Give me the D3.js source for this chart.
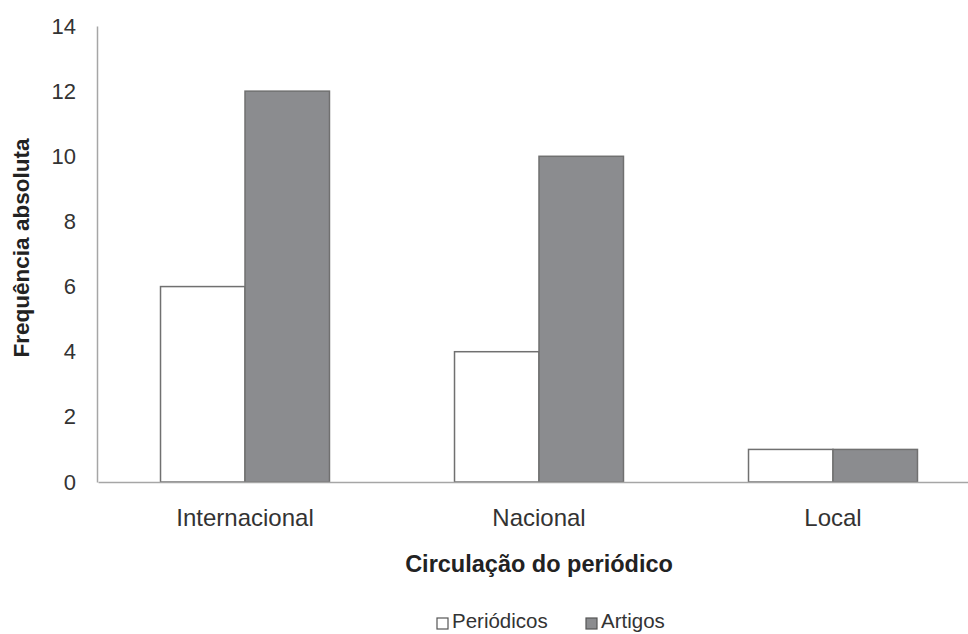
<!DOCTYPE html>
<html><head><meta charset="utf-8">
<script src="https://cdn.jsdelivr.net/npm/d3@7"></script>
<style>body{margin:0;background:#fff}svg{display:block;font-family:"Liberation Sans",Arial,sans-serif}</style>
</head><body><svg id="c" width="968" height="634"></svg>
<script>
const categories = ["Internacional", "Nacional", "Local"];
const seriesNames = ["Periódicos", "Artigos"];
const periodicos = [6, 4, 1];
const artigos = [12, 10, 1];
const yTicks = [0, 2, 4, 6, 8, 10, 12, 14];
const yTitle = "Frequência absoluta";
const xTitle = "Circulação do periódico";

(function () {
const colors = {"Periódicos": "#ffffff", "Artigos": "#8b8c8f"};
const data = categories.map((c, i) => ({cat: c, vals: [periodicos[i], artigos[i]]}));

const svg = d3.select("#c");
const mLeft = 98, mRight = 980, mTop = 26, mBottom = 482;
const x0 = d3.scaleBand().domain(categories).range([mLeft, mRight]).padding(0);
const x1 = d3.scaleBand().domain(seriesNames).range([0, x0.bandwidth()]).paddingInner(0).paddingOuter(0.74);
const y = d3.scaleLinear().domain([0, 14]).range([mBottom, mTop]);

// bars
const g = svg.append("g");
data.forEach(d => {
  seriesNames.forEach((s, j) => {
    g.append("rect")
      .attr("x", x0(d.cat) + x1(s))
      .attr("y", y(d.vals[j]))
      .attr("width", x1.bandwidth())
      .attr("height", y(0) - y(d.vals[j]))
      .attr("fill", colors[s])
      .attr("stroke", "#707070")
      .attr("stroke-width", 1.5);
  });
});

// y axis
const yAxis = d3.axisLeft(y).tickValues(yTicks).tickSize(0).tickPadding(21).tickFormat(d3.format("d"));
const ya = svg.append("g").attr("transform", `translate(${mLeft - 1},0)`).call(yAxis);
ya.select(".domain").attr("stroke", "#a6a6a6").attr("stroke-width", 1.5);
ya.selectAll("text").attr("font-size", 22).attr("fill", "#333").attr("font-family", "Liberation Sans, Arial, sans-serif");

// x axis
const xAxis = d3.axisBottom(x0).tickSize(0).tickPadding(27);
const xa = svg.append("g").attr("transform", `translate(0,${mBottom})`).call(xAxis);
xa.select(".domain").attr("stroke", "#a6a6a6").attr("stroke-width", 1.5);
xa.selectAll("text").attr("font-size", 24).attr("fill", "#333").attr("font-family", "Liberation Sans, Arial, sans-serif");

// titles
svg.append("text").attr("x", (mLeft + mRight) / 2).attr("y", 572).attr("text-anchor", "middle")
  .attr("font-size", 23.5).attr("font-weight", "bold").attr("fill", "#222").text(xTitle);
svg.append("text").attr("transform", "translate(29,248) rotate(-90)").attr("text-anchor", "middle")
  .attr("font-size", 22.5).attr("font-weight", "bold").attr("fill", "#222").text(yTitle);

// legend
const legX = [437, 586];
seriesNames.forEach((s, i) => {
  svg.append("rect").attr("x", legX[i]).attr("y", 618).attr("width", 11).attr("height", 11)
    .attr("fill", colors[s]).attr("stroke", "#555").attr("stroke-width", 1.2);
  svg.append("text").attr("x", legX[i] + 15).attr("y", 628).attr("font-size", 20.5).attr("fill", "#333").text(s);
});
})();
</script></body></html>
